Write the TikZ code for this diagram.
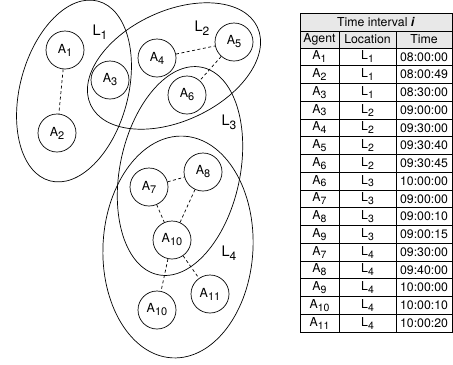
\documentclass[tikz,border=0pt]{standalone}
\usepackage{fontspec}
\setmainfont{TeX Gyre Heros}
\newcommand\subA[1]{A\raisebox{-3bp}{\fontsize{11bp}{11bp}\selectfont #1}}
\newcommand\subL[1]{L\raisebox{-3.8bp}{\fontsize{12bp}{12bp}\selectfont #1}}
\newcommand\tA[1]{A\raisebox{-2.8bp}{\fontsize{10.5bp}{11bp}\selectfont #1}}
\newcommand\tL[1]{L\raisebox{-2.8bp}{\fontsize{10.5bp}{11bp}\selectfont #1}}
\begin{document}
\begin{tikzpicture}[x=1bp,y=-1bp, line width=0.7bp,
  agent/.style={circle,draw,minimum size=38bp,inner sep=0pt,font=\fontsize{12.5bp}{13bp}\selectfont},
  loc/.style={inner sep=0pt,font=\fontsize{14.5bp}{15bp}\selectfont},
  link/.style={dash pattern=on 3bp off 2.5bp},
  cell/.style={inner sep=0pt,anchor=center,font=\fontsize{12.3bp}{13bp}\selectfont},
  tline/.style={line width=0.8bp}]
\useasboundingbox (0,0) rectangle (453,364);

% location regions
\draw[rotate around={-15:(74,91)}] (74,91) ellipse [x radius=54bp, y radius=93bp];
\draw[rotate around={25:(174,66)}] (174,66) ellipse [x radius=92bp, y radius=55bp];
\draw[rotate around={-12:(180,171)}] (180,171) ellipse [x radius=60bp, y radius=106bp];
\draw[rotate around={-3:(178,247)}] (178,247) ellipse [x radius=75bp, y radius=111bp];

\node[loc] (L1) at (100,32) {\subL{1}};
\node[loc] (L2) at (202,28) {\subL{2}};
\node[loc] (L3) at (229,122) {\subL{3}};
\node[loc] (L4) at (229,253) {\subL{4}};

% agents
\node[agent] (A1) at (65,50) {\subA{1}};
\node[agent] (A2) at (57,133) {\subA{2}};
\node[agent] (A3) at (110,80) {\subA{3}};
\node[agent] (A4) at (157,58) {\subA{4}};
\node[agent] (A5) at (234,42) {\subA{5}};
\node[agent] (A6) at (187,95) {\subA{6}};
\node[agent] (A7) at (149,187) {\subA{7}};
\node[agent] (A8) at (203,172) {\subA{8}};
\node[agent] (A10) at (172,240) {\subA{10}};
\node[agent] (A10b) at (157,310) {\subA{10}};
\node[agent] (A11) at (210,294) {\subA{11}};

\draw[link] (A1) -- (A2);
\draw[link] (A4) -- (A5);
\draw[link] (A5) -- (A6);
\draw[link] (A7) -- (A8);
\draw[link] (A7) -- (A10);
\draw[link] (A8) -- (A10);
\draw[link] (A10) -- (A10b);
\draw[link] (A10) -- (A11);

% table
\fill[black!9] (300,13) rectangle (452,48);
\draw[tline] (300,13) rectangle (452,332);
\draw[tline] (300,31) -- (452,31);
\draw[tline] (300,48) -- (452,48);
\draw[tline] (339,31) -- (339,332);
\draw[tline] (396,31) -- (396,332);
\foreach \k in {1,...,15} \draw[tline] (300,{48+17.75*\k}) -- (452,{48+17.75*\k});

\node[cell] (hd) at (376,22) {Time interval \textbf{\textit{i}}};
\node[cell] (hA) at (319.5,39.5) {Agent};
\node[cell] (hL) at (367.5,39.5) {Location};
\node[cell] (hT) at (424,39.5) {Time};

\foreach \a/\l/\t [count=\k] in {1/1/08:00:00, 2/1/08:00:49, 3/1/08:30:00, 3/2/09:00:00,
  4/2/09:30:00, 5/2/09:30:40, 6/2/09:30:45, 6/3/10:00:00, 7/3/09:00:00, 8/3/09:00:10,
  9/3/09:00:15, 7/4/09:30:00, 8/4/09:40:00, 9/4/10:00:00, 10/4/10:00:10, 11/4/10:00:20}{
  \node[cell] (ag\k) at (319.5,{48+17.75*(\k-0.5)}) {\tA{\a}};
  \node[cell] (lo\k) at (367.5,{48+17.75*(\k-0.5)}) {\tL{\l}};
  \node[cell] (ti\k) at (424,{48+17.75*(\k-0.5)}) {\t};
}
\end{tikzpicture}
\end{document}
